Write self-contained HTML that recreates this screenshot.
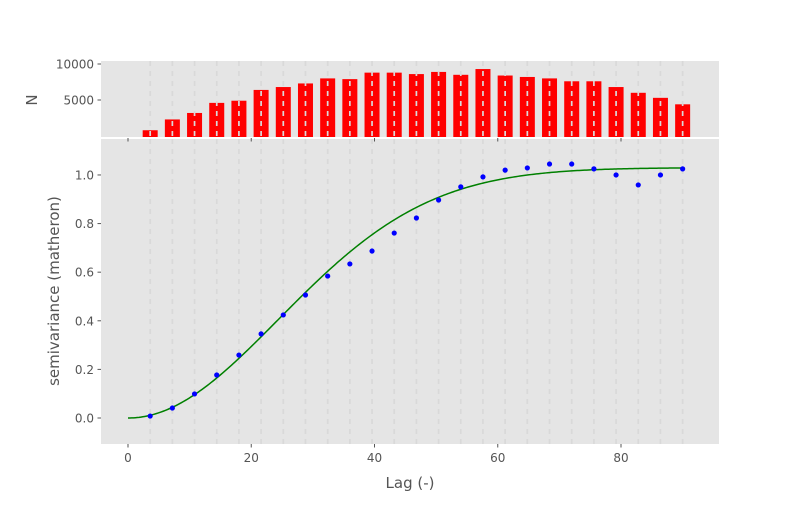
<!DOCTYPE html>
<html><head><meta charset="utf-8"><style>
body{margin:0;background:#fff}
svg{font-family:"DejaVu Sans","Liberation Sans",sans-serif}
</style></head><body>
<svg id="chart" width="800" height="500" xmlns="http://www.w3.org/2000/svg"></svg>
<script>
const bins = [3.6,7.2,10.8,14.4,18,21.6,25.2,28.8,32.4,36,39.6,43.2,46.8,50.4,54,57.6,61.2,64.8,68.4,72,75.6,79.2,82.8,86.4,90];
const counts = [800,2300,3200,4600,4900,6400,6800,7300,8000,7900,8800,8800,8600,8900,8500,9300,8400,8200,8000,7600,7600,6800,6000,5300,4400];
const semivar = [0.008,0.041,0.099,0.177,0.259,0.346,0.424,0.506,0.584,0.634,0.687,0.761,0.823,0.897,0.951,0.992,1.02,1.029,1.045,1.045,1.025,1.0,0.959,1.0,1.025];
const modelParams = [34.5, 1.03, 0]; // effective range scale, sill, nugget
const xTicks = [0,20,40,60,80];
const yTicks = [0.0,0.2,0.4,0.6,0.8,1.0];
const nTicks = [5000,10000];

const svg = document.getElementById('chart');
const NS = 'http://www.w3.org/2000/svg';
function mk(tag, attrs, parent){const e=document.createElementNS(NS,tag);for(const k in attrs)e.setAttribute(k,attrs[k]);(parent||svg).appendChild(e);return e;}
const L=101,R=719;
const xMin=-4.38,xMax=95.9;
const x=v=>L+(v-xMin)/(xMax-xMin)*(R-L);
const bT=139,bB=444,yMin=-0.107,yMax=1.148;
const y=v=>bB-(v-yMin)/(yMax-yMin)*(bB-bT);
const tT=61,tB=137,nMin=-139,nMax=10417;
const yn=v=>tB-(v-nMin)/(nMax-nMin)*(tB-tT);

const topBg=mk('rect',{x:L,y:tT,width:R-L,height:tB-tT,fill:'#e5e5e5'});


bins.forEach((b,i)=>{
  const r=mk('rect',{x:x(b)-7.5,y:yn(counts[i]),width:15,height:tB-yn(counts[i]),fill:'#ff0000'});
  
  
});
const botBg=mk('rect',{x:L,y:bT,width:R-L,height:bB-bT,fill:'#e5e5e5'});


bins.forEach(b=>{
  const l1=mk('line',{x1:x(b),x2:x(b),y1:tT,y2:tB,stroke:'#d9d9d9','stroke-width':1.7,'stroke-dasharray':'5,5'});
  
  
  const l2=mk('line',{x1:x(b),x2:x(b),y1:bT,y2:bB,stroke:'#d9d9d9','stroke-width':1.7,'stroke-dasharray':'5,5'});
  
  
});
let d='';
for(let i=0;i<=300;i++){const h=i*90/300;const g=modelParams[2]+modelParams[1]*(1-Math.exp(-((h/modelParams[0])**2)));d+=(i?'L':'M')+x(h).toFixed(2)+','+y(g).toFixed(2);}
const curve=mk('path',{d:d,fill:'none',stroke:'#008000','stroke-width':1.5});


bins.forEach((b,i)=>{
  const c=mk('circle',{cx:x(b),cy:y(semivar[i]),r:2.6,fill:'#0000ff'});
  
  
});
xTicks.forEach(t=>{
  mk('line',{x1:x(t),x2:x(t),y1:tB+1,y2:tB+4.5,stroke:'#555'});
  mk('line',{x1:x(t),x2:x(t),y1:bB,y2:bB+3.5,stroke:'#555'});
  const tx=mk('text',{x:x(t),y:bB+18,'text-anchor':'middle','font-size':12,fill:'#555'});
  tx.textContent=t;
  
  
});
yTicks.forEach(t=>{
  mk('line',{x1:L-3.5,x2:L,y1:y(t),y2:y(t),stroke:'#555'});
  const tx=mk('text',{x:L-7,y:y(t)+4.5,'text-anchor':'end','font-size':12,fill:'#555'});
  tx.textContent=t.toFixed(1);
  
  
});
nTicks.forEach(t=>{
  mk('line',{x1:L-3.5,x2:L,y1:yn(t),y2:yn(t),stroke:'#555'});
  const tx=mk('text',{x:L-7,y:yn(t)+4.5,'text-anchor':'end','font-size':12,fill:'#555'});
  tx.textContent=t;
  
  
});
const xl=mk('text',{x:(L+R)/2,y:488,'text-anchor':'middle','font-size':15,fill:'#555'});
xl.textContent='Lag (-)';


const yl=mk('text',{x:0,y:0,'text-anchor':'middle','font-size':15,fill:'#555',transform:'translate(59,291) rotate(-90)'});
yl.textContent='semivariance (matheron)';


const nl=mk('text',{x:0,y:0,'text-anchor':'middle','font-size':15,fill:'#555',transform:'translate(37,100) rotate(-90)'});
nl.textContent='N';


</script>
</body></html>
